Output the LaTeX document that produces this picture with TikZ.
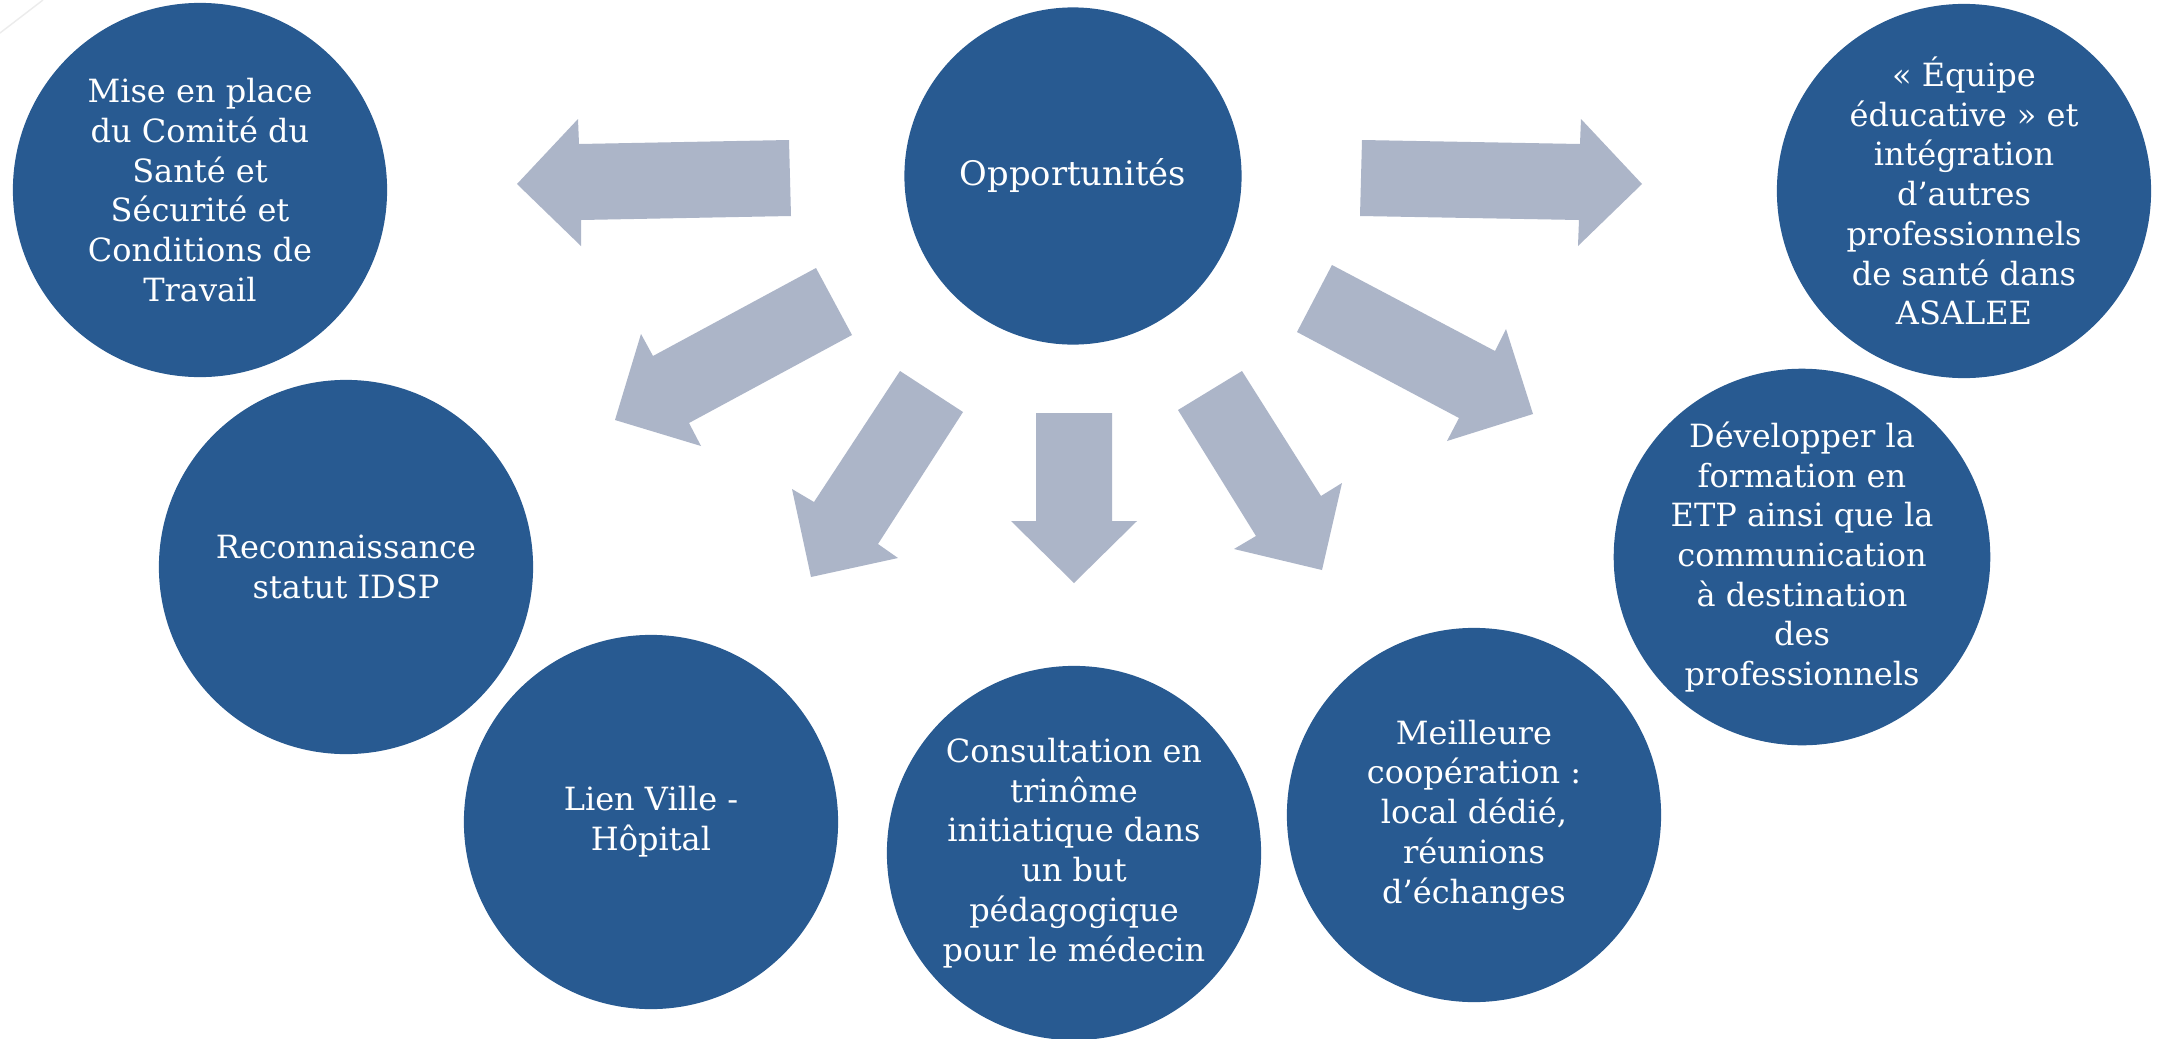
\documentclass[tikz,border=0pt]{standalone}
\usepackage{fontspec}
\setmainfont{DejaVu Serif}
\definecolor{circblue}{RGB}{40,90,145}
\definecolor{arrgray}{RGB}{172,181,200}
\tikzset{
  bubble/.style={circle, fill=circblue, text=white, minimum size=3.74cm, inner sep=0pt, align=center,
    font=\fontsize{9.1}{11.3}\selectfont},
  hub/.style={bubble, minimum size=3.37cm, font=\fontsize{9.6}{11.3}\selectfont},
  blockarrow/.style={fill=arrgray, draw=none}
}
\begin{document}
\begin{tikzpicture}[x=0.01cm, y=-0.01cm]
\useasboundingbox (0,0) rectangle (2162,1039);
\fill[white] (0,0) rectangle (2162,1039);
\draw[gray!15, line width=0.4pt] (0,33) -- (43,0);

% nodes
\node[hub] (opp) at (1073,176) {Opportunités};
\node[bubble] (chsct) at (200,190) {Mise en place\\du Comité du\\Santé et\\Sécurité et\\Conditions de\\Travail};
\node[bubble] (idsp) at (346,567) {Reconnaissance\\statut IDSP};
\node[bubble] (lien) at (651,822) {Lien Ville -\\Hôpital};
\node[bubble] (consult) at (1074,853) {Consultation en\\trinôme\\initiatique dans\\un but\\pédagogique\\pour le médecin};
\node[bubble] (coop) at (1474,815) {Meilleure\\coopération :\\local dédié,\\réunions\\d’échanges};
\node[bubble] (etp) at (1802,557) {Développer la\\formation en\\ETP ainsi que la\\communication\\à destination\\des\\professionnels};
\node[bubble] (equipe) at (1964,191) {«~Équipe\\éducative~» et\\intégration\\d’autres\\professionnels\\de santé dans\\ASALEE};

% block arrows
\fill[blockarrow] (789,140) -- (579,144) -- (578,119) -- (517,184) -- (581,246) -- (581,220) -- (791,216) -- cycle;
\fill[blockarrow] (1362,140) -- (1580,144) -- (1581,119) -- (1642,184) -- (1578,246) -- (1579,220) -- (1360,216) -- cycle;
\fill[blockarrow] (816,268) -- (653,356) -- (641,334) -- (615,420) -- (701,446) -- (689,423) -- (852,335) -- cycle;
\fill[blockarrow] (900,371) -- (814,502) -- (792,489) -- (811,577) -- (898,558) -- (878,544) -- (963,412) -- cycle;
\fill[blockarrow] (1036,413) -- (1036,521) -- (1011,521) -- (1074,583) -- (1137,521) -- (1112,521) -- (1112,413) -- cycle;
\fill[blockarrow] (1178,410) -- (1256,536) -- (1234,549) -- (1322,570) -- (1342,483) -- (1321,496) -- (1242,371) -- cycle;
\fill[blockarrow] (1332,265) -- (1495,351) -- (1506,329) -- (1533,414) -- (1447,441) -- (1459,418) -- (1297,332) -- cycle;
\end{tikzpicture}
\end{document}
